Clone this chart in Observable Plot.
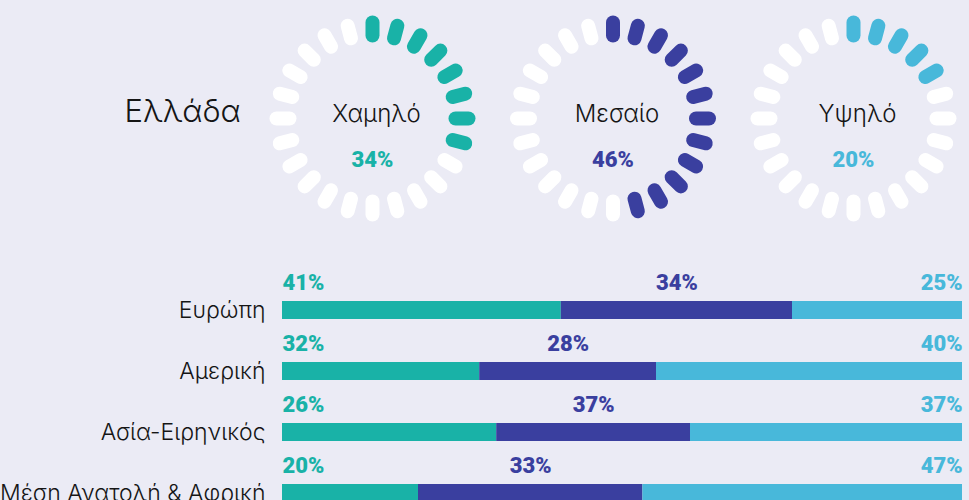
<!DOCTYPE html>
<html>
<head>
<meta charset="utf-8">
<script src="https://cdn.jsdelivr.net/npm/d3@7"></script>
<script src="https://cdn.jsdelivr.net/npm/@observablehq/plot@0.6"></script>
<style>
  html, body { margin: 0; padding: 0; background: #ebebf5; }
  #chart { width: 969px; height: 500px; overflow: hidden; }
  #chart svg { display: block; background: transparent; }
</style>
</head>
<body>
<div id="chart"></div>
<script>
// ---- data ----
const country = "Ελλάδα";
const levels = ["Χαμηλό", "Μεσαίο", "Υψηλό"];
const greecePct = [34, 46, 20];
const litSegments = [8, 12, 5];          // coloured dashes (of 24)
const segmentCount = 24;

const regions = ["Ευρώπη", "Αμερική", "Ασία-Ειρηνικός", "Μέση Ανατολή & Αφρική"];
// bar lengths as drawn in the picture
const lowBar  = [41, 29, 31.5, 20];
const midBar  = [34, 26, 28.5, 33];
const highBar = [25, 45, 40, 47];
// percentages printed above the bars
const lowLabel  = [41, 32, 26, 20];
const midLabel  = [34, 28, 37, 33];
const highLabel = [25, 40, 37, 47];

const colors = ["#19b2a7", "#3a3f9f", "#48b8da"];

const labelFont = "Inter, 'Noto Sans', sans-serif";
const numFont = "Roboto, 'Noto Sans', sans-serif";

// ---- dials ----
const unit = 240.5, rIn = 83, rOut = 96;
const segments = levels.flatMap((lvl, i) =>
  d3.range(segmentCount).map(k => {
    const a = k * 2 * Math.PI / segmentCount;
    return {
      i, lvl, lit: k < litSegments[i],
      x1: i + rIn * Math.sin(a) / unit, y1: rIn * Math.cos(a) / unit,
      x2: i + rOut * Math.sin(a) / unit, y2: rOut * Math.cos(a) / unit
    };
  })
);

const dials = Plot.plot({
  width: 969, height: 240, margin: 0,
  x: {domain: [0, 2], range: [372, 853], axis: null},
  y: {domain: [-0.5, 0.5], range: [118 + 120.25, 118 - 120.25], axis: null},
  style: {background: "transparent", overflow: "visible"},
  marks: [
    Plot.link(segments, {
      x1: "x1", y1: "y1", x2: "x2", y2: "y2",
      stroke: d => d.lit ? colors[d.i] : "#ffffff",
      strokeWidth: 14, strokeLinecap: "round"
    }),
    Plot.text(levels, {
      x: (d, i) => i, y: () => 0, text: d => d,
      fontSize: 24, fontWeight: 300, fontFamily: labelFont, fill: "#151515",
      lineAnchor: "bottom", dy: 3, dx: 4
    }),
    Plot.text(greecePct, {
      x: (d, i) => i, y: () => 0, text: d => d + "%",
      fontSize: 22, fontWeight: 900, fontFamily: numFont,
      fill: (d, i) => colors[i],
      lineAnchor: "bottom", dy: 48
    }),
    Plot.text([country], {
      y: () => 0, frameAnchor: "left", dx: 124, text: d => d,
      textAnchor: "start", lineAnchor: "bottom", dy: 3,
      fontSize: 31, fontWeight: 300, fontFamily: labelFont, fill: "#151515"
    })
  ]
});

// ---- bars ----
const barSeries = [lowBar, midBar, highBar];
const barData = regions.flatMap((r, j) =>
  levels.map((l, i) => ({region: r, level: l, value: barSeries[i][j]}))
);
const rows = regions.map((r, j) => ({region: r, j}));

const bars = Plot.plot({
  width: 969, height: 260,
  marginLeft: 282, marginRight: 7, marginTop: 0, marginBottom: 0,
  x: {domain: [0, 100], axis: null},
  y: {domain: regions, range: [38.2, 284.8], paddingInner: 0.708, paddingOuter: 0.354, axis: null},
  color: {domain: levels, range: colors},
  style: {background: "transparent", overflow: "visible"},
  marks: [
    Plot.barX(barData, {x: "value", y: "region", fill: "level"}),
    Plot.axisY({
      label: null, tickSize: 0, tickPadding: 17, fontSize: 23, fontWeight: 300,
      fontFamily: labelFont, fill: "#151515"
    }),
    Plot.text(rows, {
      x: () => 0, y: "region", text: d => lowLabel[d.j] + "%",
      textAnchor: "start", lineAnchor: "bottom", dy: -21,
      fontSize: 22, fontWeight: 900, fontFamily: numFont, fill: colors[0]
    }),
    Plot.text(rows, {
      x: d => lowBar[d.j] + midBar[d.j] / 2, y: "region", text: d => midLabel[d.j] + "%",
      textAnchor: "middle", lineAnchor: "bottom", dy: -21,
      fontSize: 22, fontWeight: 900, fontFamily: numFont, fill: colors[1]
    }),
    Plot.text(rows, {
      x: () => 100, y: "region", text: d => highLabel[d.j] + "%",
      textAnchor: "end", lineAnchor: "bottom", dy: -21,
      fontSize: 22, fontWeight: 900, fontFamily: numFont, fill: colors[2]
    })
  ]
});

const chart = document.getElementById("chart");
chart.appendChild(dials);
chart.appendChild(bars);
</script>
</body>
</html>
